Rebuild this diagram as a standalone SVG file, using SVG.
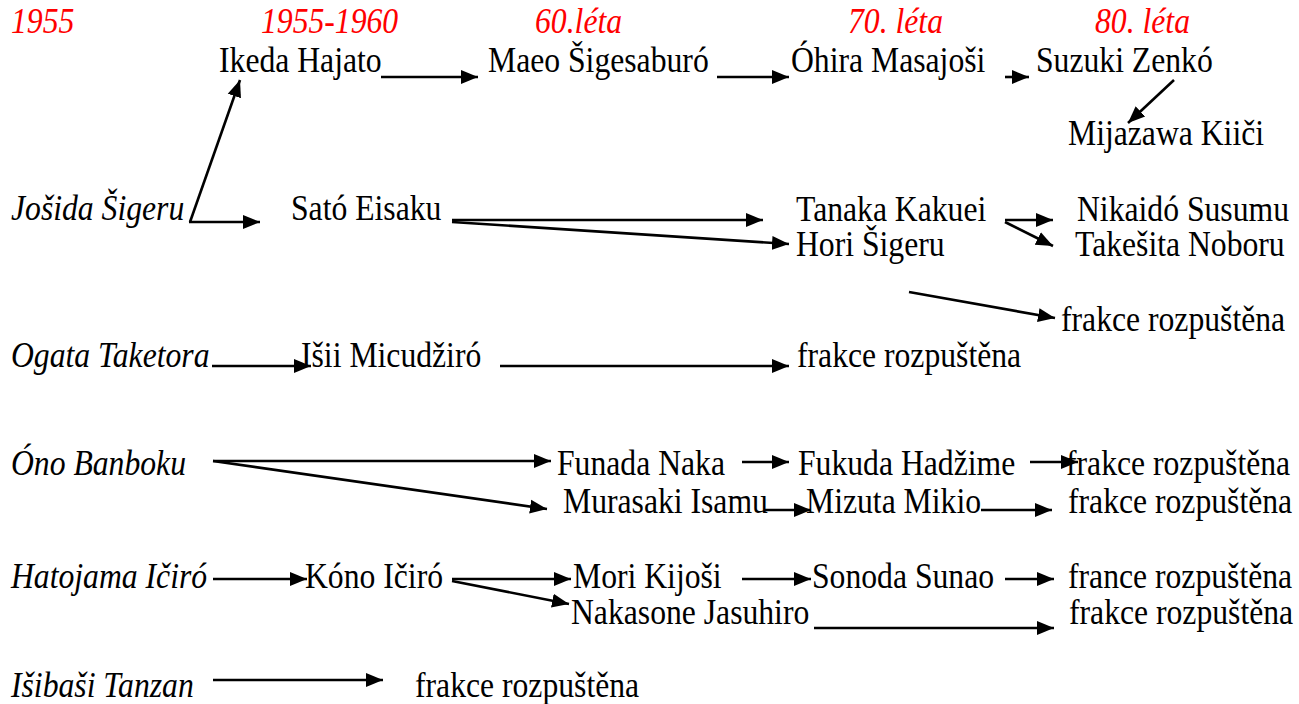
<svg xmlns="http://www.w3.org/2000/svg" width="1299" height="704" viewBox="0 0 1299 704">
<style>
text{font-family:"Liberation Serif","Times New Roman",serif;font-size:36px;fill:#000}
.yr{fill:#ff0000;font-style:italic}
.it{font-style:italic}
.c{stroke:#000;stroke-width:2.6;fill:none;marker-end:url(#ah)}
</style>
<defs>
<marker id="ah" markerUnits="userSpaceOnUse" markerWidth="18" markerHeight="16" refX="17" refY="8" orient="auto">
<path d="M0,1 L17,8 L0,15 Z" fill="#000"/>
</marker>
</defs>
<rect width="1299" height="704" fill="#fff"/>
<g id="years">
<text class="yr" transform="translate(11,33) scale(0.88,1)">1955</text>
<text class="yr" transform="translate(261,33) scale(0.88,1)">1955-1960</text>
<text class="yr" transform="translate(535,33) scale(0.88,1)">60.léta</text>
<text class="yr" transform="translate(848,33) scale(0.88,1)">70. léta</text>
<text class="yr" transform="translate(1095,33) scale(0.88,1)">80. léta</text>
</g>
<g id="ikeda"><text transform="translate(219,72) scale(0.88,1)">Ikeda Hajato</text></g>
<g id="maeo"><text transform="translate(488,72) scale(0.88,1)">Maeo Šigesaburó</text></g>
<g id="ohira"><text transform="translate(791,72) scale(0.88,1)">Óhira Masajoši</text></g>
<g id="suzuki"><text transform="translate(1036,72) scale(0.88,1)">Suzuki Zenkó</text></g>
<g id="mijazawa"><text transform="translate(1068,145) scale(0.88,1)">Mijazawa Kiiči</text></g>
<g id="josida"><text class="it" transform="translate(11,220) scale(0.88,1)">Jošida Šigeru</text></g>
<g id="sato"><text transform="translate(291,220) scale(0.88,1)">Sató Eisaku</text></g>
<g id="tanaka"><text transform="translate(796,221) scale(0.88,1)">Tanaka Kakuei</text></g>
<g id="hori"><text transform="translate(796,256) scale(0.88,1)">Hori Šigeru</text></g>
<g id="nikaido"><text transform="translate(1077,221) scale(0.88,1)">Nikaidó Susumu</text></g>
<g id="takesita"><text transform="translate(1075,256) scale(0.88,1)">Takešita Noboru</text></g>
<g id="frakce1"><text transform="translate(1061,331) scale(0.88,1)">frakce rozpuštěna</text></g>
<g id="ogata"><text class="it" transform="translate(11,367) scale(0.88,1)">Ogata Taketora</text></g>
<g id="isii"><text transform="translate(301,367) scale(0.88,1)">Išii Micudžiró</text></g>
<g id="frakce2"><text transform="translate(797,367) scale(0.88,1)">frakce rozpuštěna</text></g>
<g id="ono"><text class="it" transform="translate(11,475) scale(0.88,1)">Óno Banboku</text></g>
<g id="funada"><text transform="translate(557,475) scale(0.88,1)">Funada Naka</text></g>
<g id="fukuda"><text transform="translate(798,475) scale(0.88,1)">Fukuda Hadžime</text></g>
<g id="frakce3"><text transform="translate(1066,475) scale(0.88,1)">frakce rozpuštěna</text></g>
<g id="murasaki"><text transform="translate(563,513) scale(0.88,1)">Murasaki Isamu</text></g>
<g id="mizuta"><text transform="translate(806,513) scale(0.88,1)">Mizuta Mikio</text></g>
<g id="frakce4"><text transform="translate(1068,513) scale(0.88,1)">frakce rozpuštěna</text></g>
<g id="hatojama"><text class="it" transform="translate(11,588) scale(0.88,1)">Hatojama Ičiró</text></g>
<g id="kono"><text transform="translate(305,588) scale(0.88,1)">Kóno Ičiró</text></g>
<g id="mori"><text transform="translate(573,588) scale(0.88,1)">Mori Kijoši</text></g>
<g id="sonoda"><text transform="translate(812,588) scale(0.88,1)">Sonoda Sunao</text></g>
<g id="france5"><text transform="translate(1068,588) scale(0.88,1)">france rozpuštěna</text></g>
<g id="nakasone"><text transform="translate(571,624) scale(0.88,1)">Nakasone Jasuhiro</text></g>
<g id="frakce6"><text transform="translate(1069,624) scale(0.88,1)">frakce rozpuštěna</text></g>
<g id="isibasi"><text class="it" transform="translate(11,697) scale(0.88,1)">Išibaši Tanzan</text></g>
<g id="frakce7"><text transform="translate(415,697) scale(0.88,1)">frakce rozpuštěna</text></g>
<g id="connectors">
<line class="c" x1="190" y1="222" x2="240" y2="80"/>
<line class="c" x1="189" y1="222" x2="260" y2="222"/>
<line class="c" x1="381" y1="77" x2="478" y2="77"/>
<line class="c" x1="717" y1="77" x2="789" y2="77"/>
<line class="c" x1="1005" y1="77" x2="1029" y2="77"/>
<line class="c" x1="1174" y1="80" x2="1128" y2="123"/>
<line class="c" x1="452" y1="220" x2="763" y2="220"/>
<line class="c" x1="452" y1="222" x2="789" y2="244"/>
<line class="c" x1="1005" y1="220" x2="1053" y2="220"/>
<line class="c" x1="1005" y1="222" x2="1053" y2="246"/>
<line class="c" x1="909" y1="292" x2="1055" y2="318"/>
<line class="c" x1="212" y1="366" x2="311" y2="366"/>
<line class="c" x1="500" y1="366" x2="789" y2="366"/>
<line class="c" x1="213" y1="461" x2="551" y2="461"/>
<line class="c" x1="213" y1="461" x2="547" y2="509"/>
<line class="c" x1="742" y1="462" x2="789" y2="462"/>
<line class="c" x1="1030" y1="462" x2="1078" y2="462"/>
<line class="c" x1="765" y1="510" x2="811" y2="510"/>
<line class="c" x1="981" y1="510" x2="1052" y2="510"/>
<line class="c" x1="213" y1="579" x2="307" y2="579"/>
<line class="c" x1="452" y1="579" x2="571" y2="579"/>
<line class="c" x1="452" y1="581" x2="569" y2="604"/>
<line class="c" x1="742" y1="579" x2="811" y2="579"/>
<line class="c" x1="1005" y1="579" x2="1054" y2="579"/>
<line class="c" x1="814" y1="628" x2="1054" y2="628"/>
<line class="c" x1="213" y1="680" x2="383" y2="680"/>
</g>
</svg>
